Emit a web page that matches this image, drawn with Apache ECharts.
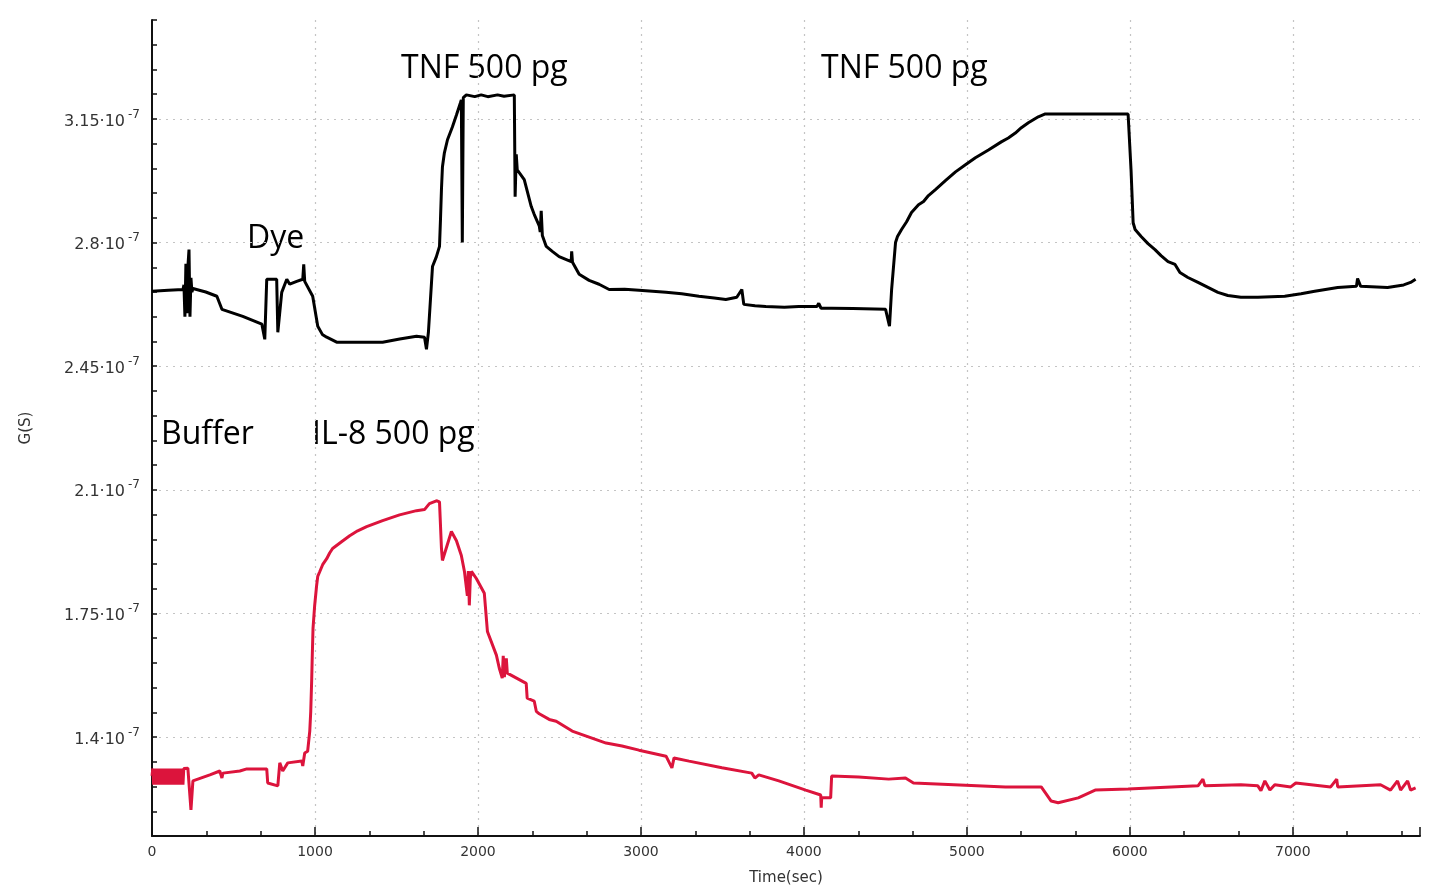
<!DOCTYPE html>
<html>
<head>
    <meta charset="utf-8">
    <title>G(S) vs Time</title>
    <script src="https://cdn.jsdelivr.net/npm/echarts@6/dist/echarts.min.js"></script>
    <style>
        html, body { margin: 0; padding: 0; background: #fff; }
        #main { width: 1433px; height: 894px; }
    </style>
</head>
<body>
    <div id="main"></div>

    <script>
        // values are G in units of 1e-7 S, time in seconds
        const blackTrace = [
            [0, 2.662], [100, 2.665], [190, 2.667], [196, 2.68], [202, 2.59], [208, 2.74], [214, 2.60],
            [220, 2.73], [227, 2.78], [233, 2.59], [239, 2.70], [245, 2.66], [251, 2.670], [330, 2.660],
            [398, 2.648], [429, 2.611], [557, 2.591], [674, 2.569], [692, 2.526], [704, 2.696], [765, 2.696],
            [772, 2.546], [796, 2.659], [827, 2.696], [845, 2.682], [888, 2.690], [925, 2.696], [931, 2.738],
            [937, 2.690], [949, 2.687], [986, 2.648], [1017, 2.563], [1045, 2.540], [1072, 2.532],
            [1133, 2.518], [1300, 2.518], [1415, 2.518], [1520, 2.527], [1623, 2.535], [1672, 2.532],
            [1684, 2.498], [1696, 2.546], [1721, 2.732], [1745, 2.760], [1764, 2.789], [1770, 2.865],
            [1776, 2.950], [1782, 3.014], [1794, 3.054], [1813, 3.091], [1843, 3.127], [1868, 3.161],
            [1892, 3.195], [1898, 3.204], [1904, 2.80], [1910, 3.210], [1929, 3.218], [1980, 3.213],
            [2020, 3.218], [2060, 3.213], [2120, 3.218], [2160, 3.214], [2223, 3.218], [2228, 2.93],
            [2235, 3.05], [2241, 3.006], [2284, 2.978], [2327, 2.902], [2345, 2.88], [2376, 2.847],
            [2382, 2.83], [2388, 2.89], [2395, 2.82], [2419, 2.789], [2456, 2.775], [2498, 2.760],
            [2572, 2.746], [2575, 2.775], [2580, 2.744], [2621, 2.710], [2682, 2.693], [2743, 2.682],
            [2805, 2.667], [2900, 2.668], [2988, 2.665], [3154, 2.659], [3250, 2.655], [3356, 2.648],
            [3450, 2.643], [3521, 2.639], [3588, 2.645], [3619, 2.667], [3631, 2.625], [3700, 2.621],
            [3766, 2.619], [3880, 2.617], [3968, 2.619], [4080, 2.619], [4091, 2.628], [4105, 2.614],
            [4170, 2.614], [4300, 2.613], [4501, 2.611], [4525, 2.563], [4538, 2.667], [4562, 2.800],
            [4574, 2.817], [4599, 2.837], [4630, 2.859], [4660, 2.885], [4703, 2.907], [4734, 2.916],
            [4764, 2.933], [4807, 2.950], [4868, 2.975], [4930, 3.000], [4991, 3.020], [5052, 3.040],
            [5132, 3.062], [5211, 3.085], [5254, 3.096], [5297, 3.110], [5334, 3.125], [5377, 3.139],
            [5438, 3.156], [5481, 3.164], [5989, 3.164], [6007, 3.006], [6020, 2.856], [6032, 2.837],
            [6069, 2.817], [6111, 2.797], [6154, 2.780], [6191, 2.763], [6234, 2.746], [6277, 2.738],
            [6307, 2.715], [6356, 2.701], [6418, 2.687], [6479, 2.673], [6540, 2.659], [6601, 2.650],
            [6681, 2.645], [6785, 2.645], [6950, 2.648], [7050, 2.655], [7134, 2.662], [7275, 2.673],
            [7390, 2.676], [7397, 2.698], [7416, 2.676], [7581, 2.673], [7680, 2.680], [7722, 2.687],
            [7753, 2.696]
        ];

        const redTrace = [
            [0, 1.29], [5, 1.311], [10, 1.265], [15, 1.311], [20, 1.265], [25, 1.311], [30, 1.265],
            [35, 1.311], [40, 1.265], [45, 1.311], [50, 1.265], [55, 1.311], [60, 1.265], [65, 1.311],
            [70, 1.265], [75, 1.311], [80, 1.265], [85, 1.311], [90, 1.265], [95, 1.311], [100, 1.265],
            [105, 1.311], [110, 1.265], [115, 1.311], [120, 1.265], [125, 1.311], [130, 1.265],
            [135, 1.311], [140, 1.265], [145, 1.311], [150, 1.265], [155, 1.311], [160, 1.265],
            [165, 1.311], [170, 1.265], [175, 1.311], [180, 1.265], [185, 1.311], [190, 1.265],
            [195, 1.311], [220, 1.312], [239, 1.194], [251, 1.276], [355, 1.293], [416, 1.304],
            [429, 1.284], [435, 1.298], [539, 1.304], [582, 1.310], [704, 1.310], [710, 1.270],
            [772, 1.262], [784, 1.327], [802, 1.304], [833, 1.327], [919, 1.332], [925, 1.318],
            [937, 1.355], [955, 1.360], [968, 1.417], [974, 1.473], [980, 1.565], [983, 1.623],
            [988, 1.708], [998, 1.772], [1010, 1.829], [1017, 1.855], [1029, 1.868], [1047, 1.888],
            [1072, 1.905], [1090, 1.921], [1108, 1.934], [1163, 1.953], [1213, 1.970], [1262, 1.984],
            [1317, 1.996], [1415, 2.013], [1519, 2.029], [1623, 2.041], [1672, 2.044], [1702, 2.061],
            [1745, 2.069], [1764, 2.066], [1776, 1.934], [1782, 1.900], [1837, 1.982], [1868, 1.956],
            [1898, 1.914], [1917, 1.869], [1935, 1.80], [1941, 1.87], [1947, 1.773], [1953, 1.85],
            [1960, 1.869], [1990, 1.849], [2039, 1.807], [2058, 1.699], [2113, 1.632], [2131, 1.595],
            [2149, 1.567], [2155, 1.63], [2162, 1.57], [2174, 1.623], [2180, 1.581], [2296, 1.552],
            [2302, 1.510], [2345, 1.502], [2358, 1.473], [2376, 1.466], [2437, 1.450], [2480, 1.445],
            [2578, 1.417], [2682, 1.400], [2786, 1.383], [2884, 1.375], [2988, 1.363], [3154, 1.346],
            [3190, 1.313], [3203, 1.341], [3295, 1.332], [3497, 1.313], [3680, 1.298], [3699, 1.284],
            [3723, 1.293], [3846, 1.276], [4011, 1.250], [4103, 1.236], [4106, 1.200], [4109, 1.228],
            [4164, 1.228], [4170, 1.290], [4336, 1.287], [4520, 1.281], [4623, 1.284], [4672, 1.270],
            [4991, 1.264], [5236, 1.259], [5456, 1.259], [5517, 1.219], [5560, 1.214], [5683, 1.228],
            [5787, 1.250], [5989, 1.253], [6418, 1.262], [6448, 1.281], [6460, 1.262], [6681, 1.265],
            [6785, 1.262], [6804, 1.248], [6828, 1.276], [6859, 1.250], [6889, 1.265], [6987, 1.259],
            [7018, 1.270], [7232, 1.259], [7269, 1.281], [7275, 1.259], [7538, 1.265], [7599, 1.250],
            [7642, 1.276], [7661, 1.250], [7704, 1.276], [7722, 1.250], [7753, 1.256]
        ];

        const xRange = [0, 7780];
        const yRange = [1.12, 3.43];
        const yMajorStep = 0.35;

        // annotation texts: [text, left px, top px]
        const notes = [
            ['TNF 500 pg', 401, 53],
            ['TNF 500 pg', 821, 53],
            ['Dye', 247, 223],
            ['Buffer', 161, 419],
            ['IL-8 500 pg', 312, 419]
        ];

        var myChart = echarts.init(document.getElementById('main'));

        function isMajor(v) {
            const r = v / yMajorStep;
            return Math.abs(r - Math.round(r)) < 1e-6;
        }

        const option = {
            animation: false,
            backgroundColor: '#fff',
            grid: { left: 152, right: 13, top: 20, bottom: 58 },
            xAxis: {
                type: 'value',
                min: xRange[0],
                max: xRange[1],
                interval: 1000,
                name: 'Time(sec)',
                nameLocation: 'middle',
                nameGap: 35,
                nameTextStyle: { color: '#333', fontFamily: 'DejaVu Sans', fontSize: 15 },
                axisLine: { lineStyle: { color: '#111', width: 2 } },
                axisTick: { inside: true, length: 9, lineStyle: { color: '#111', width: 1.5 } },
                minorTick: { show: true, splitNumber: 3, length: 5, lineStyle: { color: '#111', width: 1.5 } },
                axisLabel: {
                    color: '#333', fontFamily: 'DejaVu Sans', fontSize: 14, margin: 9,
                    showMaxLabel: false,
                    formatter: v => (v % 1000 === 0 ? String(v) : '')
                },
                splitLine: {
                    show: true, showMinLine: false, showMaxLine: false,
                    lineStyle: { color: '#c4c4c4', type: [2, 5], width: 1.2 }
                }
            },
            yAxis: {
                type: 'value',
                min: yRange[0],
                max: yRange[1],
                interval: 0.07,
                name: 'G(S)',
                nameLocation: 'middle',
                nameGap: 118,
                nameTextStyle: { color: '#333', fontFamily: 'DejaVu Sans', fontSize: 15 },
                axisLine: { show: true, lineStyle: { color: '#111', width: 2 } },
                axisTick: { show: true, inside: true, length: 5, lineStyle: { color: '#111', width: 1.5 } },
                axisLabel: {
                    margin: 12,
                    formatter: v => (isMajor(v) ? '{m|' + parseFloat(v.toFixed(2)) + '\u00b710}{s|-7}' : ''),
                    rich: {
                        m: { color: '#333', fontFamily: 'DejaVu Sans', fontSize: 16, lineHeight: 21, verticalAlign: 'bottom' },
                        s: { color: '#333', fontFamily: 'DejaVu Sans', fontSize: 12, lineHeight: 21, verticalAlign: 'top', padding: [0, 0, 0, 3] }
                    }
                },
                splitLine: {
                    show: true,
                    lineStyle: {
                        color: ['rgba(0,0,0,0)', 'rgba(0,0,0,0)', 'rgba(0,0,0,0)', 'rgba(0,0,0,0)', '#c4c4c4'],
                        type: [2, 5], width: 1.2
                    }
                }
            },
            series: [
                {
                    name: 'TNF',
                    type: 'line',
                    data: blackTrace,
                    showSymbol: false,
                    lineStyle: { color: '#000', width: 3 },
                    z: 3
                },
                {
                    name: 'IL-8',
                    type: 'line',
                    data: redTrace,
                    showSymbol: false,
                    lineStyle: { color: '#dc143c', width: 3 },
                    z: 3
                }
            ],
            graphic: notes.map(n => ({
                type: 'text',
                left: n[1],
                top: n[2],
                style: { text: n[0], fill: '#000', font: '32px "Open Sans"' }
            }))
        };

        myChart.setOption(option);
        window.addEventListener('resize', function() {
            myChart.resize();
        });
    </script>
</body>
</html>
